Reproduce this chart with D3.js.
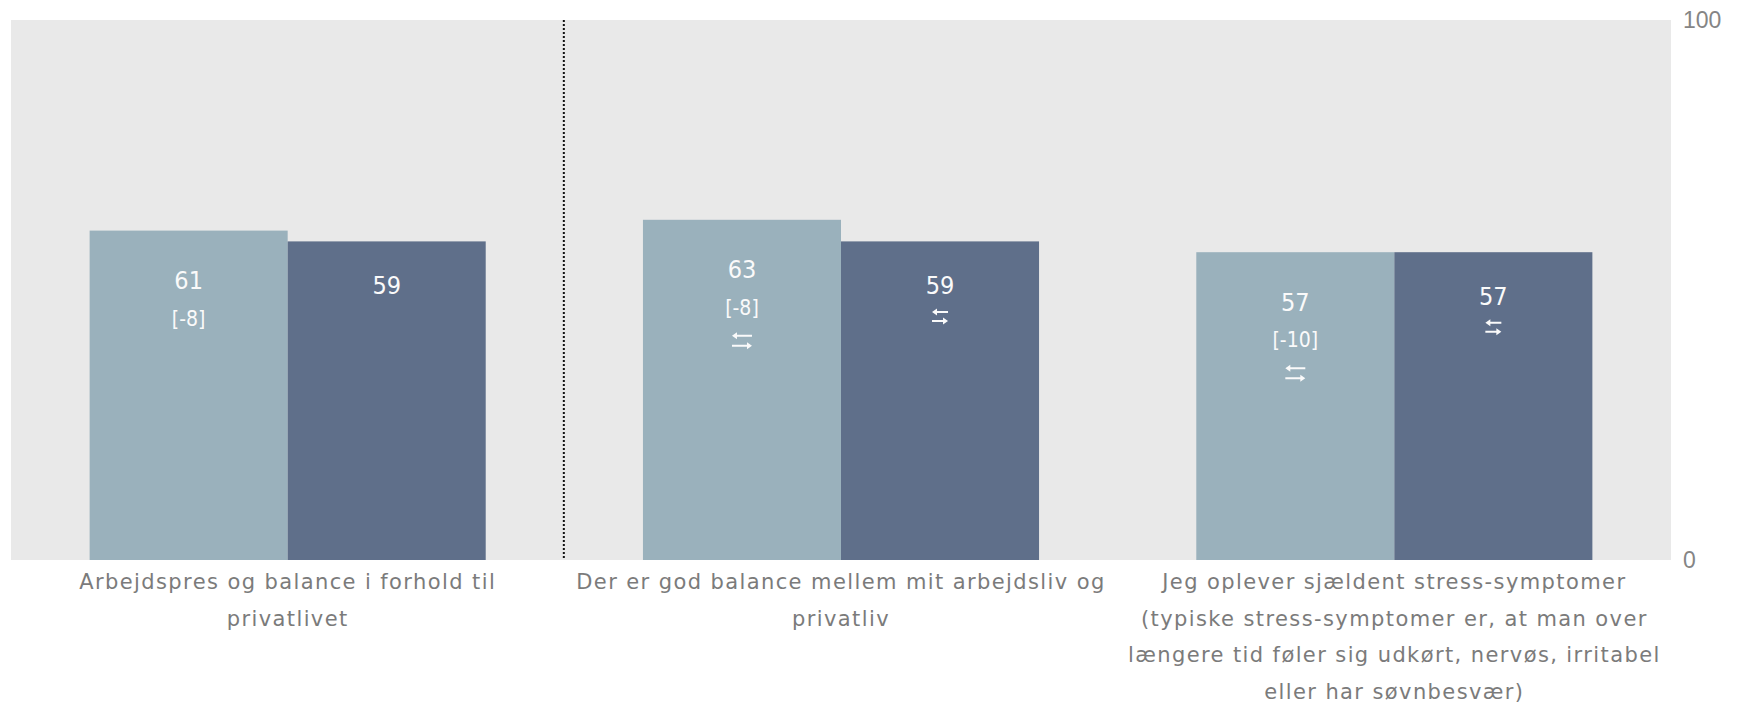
<!DOCTYPE html>
<html lang="da">
<head>
<meta charset="utf-8">
<title>Arbejdspres og balance</title>
<script src="https://d3js.org/d3.v7.min.js"></script>
<style>
  body { margin: 0; background: #fff; }
  svg { display: block; }
</style>
</head>
<body>
<svg id="chart" width="1747" height="704"></svg>
<script>
// kategorier (linjeskift som i originalen)
var categories = [
    ["Arbejdspres og balance i forhold til", "privatlivet"],
    ["Der er god balance mellem mit arbejdsliv og", "privatliv"],
    ["Jeg oplever sjældent stress-symptomer", "(typiske stress-symptomer er, at man over", "længere tid føler sig udkørt, nervøs, irritabel", "eller har søvnbesvær)"]
];
var lightValues = [61, 63, 57];
var darkValues = [59, 59, 57];
var lightDiff = ["[-8]", "[-8]", "[-10]"];
var lightArrow = [false, true, true];
var darkArrow = [false, true, true];
var yTicks = [0, 100];

var svg = d3.select("#chart"),
    width = +svg.attr("width"),
    height = +svg.attr("height");

var margin = {left: 11, right: 76, top: 20, bottom: 144};
var font = "'DejaVu Sans Condensed', 'DejaVu Sans', sans-serif";
var color = {
    bg: "#e9e9e9",
    light: "#9ab1bc",
    dark: "#5f6f8a",
    label: "#7b7b7b",
    tick: "#858585",
    inner: "#fafafa"
};

var x = d3.scaleBand()
    .domain(d3.range(categories.length))
    .range([margin.left, width - margin.right]);

var xs = d3.scaleBand()
    .domain(["light", "dark"])
    .range([0, x.bandwidth()])
    .paddingOuter(0.397);

var y = d3.scaleLinear()
    .domain([0, 100])
    .range([height - margin.bottom, margin.top]);

// grå baggrund
svg.append("rect")
    .attr("x", margin.left)
    .attr("y", margin.top)
    .attr("width", width - margin.left - margin.right)
    .attr("height", y(0) - y(100))
    .attr("fill", color.bg);

// stiplet skillelinje mellem første og anden gruppe
svg.append("line")
    .attr("x1", x(1) - 0.5).attr("x2", x(1) - 0.5)
    .attr("y1", y(100)).attr("y2", y(0))
    .attr("stroke", "#111")
    .attr("stroke-width", 2)
    .attr("stroke-dasharray", "2,2");

var groups = svg.selectAll("g.group")
    .data(categories)
    .enter().append("g")
    .attr("class", "group")
    .attr("transform", function(d, i){ return "translate(" + x(i) + ",0)"; });

// søjler
groups.append("rect")
    .attr("x", xs("light"))
    .attr("y", function(d, i){ return y(lightValues[i]); })
    .attr("width", xs.bandwidth())
    .attr("height", function(d, i){ return y(0) - y(lightValues[i]); })
    .attr("fill", color.light);

groups.append("rect")
    .attr("x", xs("dark"))
    .attr("y", function(d, i){ return y(darkValues[i]); })
    .attr("width", xs.bandwidth())
    .attr("height", function(d, i){ return y(0) - y(darkValues[i]); })
    .attr("fill", color.dark);

var lx = xs("light") + xs.bandwidth() / 2,
    dx = xs("dark") + xs.bandwidth() / 2;

function inner(g, cx, yy, txt, size) {
    g.append("text")
        .attr("x", cx)
        .attr("y", yy)
        .attr("text-anchor", "middle")
        .attr("dominant-baseline", "central")
        .attr("fill", color.inner)
        .style("font-family", font)
        .style("font-size", size + "px")
        .text(txt);
}

// pil frem og tilbage (uændret)
function arrows(g, cx, cy, w, gap) {
    var a = g.append("g").attr("transform", "translate(" + cx + "," + cy + ")");
    var h = w / 2, top = -gap / 2, bot = gap / 2;
    a.append("path")
        .attr("d", "M" + (-h + 4) + "," + top + "H" + h + "M" + (-h) + "," + bot + "H" + (h - 4))
        .attr("stroke", color.inner)
        .attr("stroke-width", 2)
        .attr("fill", "none");
    a.append("path")
        .attr("d", "M" + (-h) + "," + top + "l5,-3.5v7z" + "M" + h + "," + bot + "l-5,-3.5v7z")
        .attr("fill", color.inner);
}

groups.each(function(d, i){
    var g = d3.select(this);
    var lt = y(lightValues[i]), dt = y(darkValues[i]);
    inner(g, lx, lt + 50, lightValues[i], 25);
    inner(g, lx, lt + 88, lightDiff[i], 21);
    if (lightArrow[i]) arrows(g, lx, lt + 121, 20, 10);
    inner(g, dx, dt + 44, darkValues[i], 25);
    if (darkArrow[i]) arrows(g, dx, dt + 75, 16, 9);
});

// kategoritekster
groups.append("text")
    .attr("text-anchor", "middle")
    .attr("fill", color.label)
    .style("font-family", "'DejaVu Sans', sans-serif")
    .style("font-size", "21px")
    .style("letter-spacing", "1.4px")
    .selectAll("tspan")
    .data(function(d){ return d; })
    .enter().append("tspan")
    .attr("x", x.bandwidth() / 2)
    .attr("y", function(d, j){ return y(0) + 22 + j * 36.5; })
    .attr("dominant-baseline", "central")
    .text(function(d){ return d; });

// y-akse til højre
var axis = svg.append("g")
    .attr("transform", "translate(" + (width - margin.right + 8) + ",0)")
    .call(d3.axisRight(y).tickValues(yTicks).tickSize(0).tickPadding(4));
axis.select(".domain").remove();
axis.selectAll("text")
    .attr("fill", color.tick)
    .style("font-family", "'Liberation Sans', Arial, sans-serif")
    .style("font-size", "23px");
</script>
</body>
</html>
